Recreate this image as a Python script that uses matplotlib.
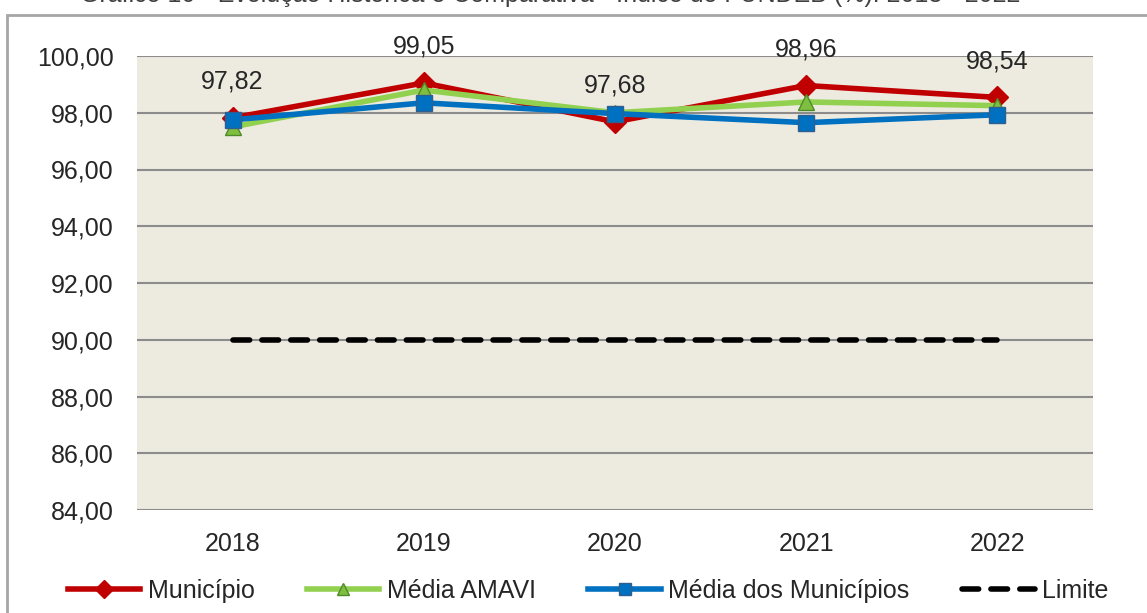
import matplotlib.pyplot as plt
from matplotlib.patches import Rectangle

# -------------------------
# Data
# -------------------------
anos = ["2018", "2019", "2020", "2021", "2022"]
municipio = [97.82, 99.05, 97.68, 98.96, 98.54]
media_amavi = [97.50, 98.80, 98.00, 98.38, 98.25]
media_municipios = [97.75, 98.35, 97.97, 97.65, 97.93]
limite = [90, 90, 90, 90, 90]
titulo = "Gráfico 10 - Evolução Histórica e Comparativa - Índice do FUNDEB (%): 2018 - 2022"

plt.rcParams["font.family"] = ["Liberation Sans", "DejaVu Sans"]

W, H = 1147, 613
fig = plt.figure(figsize=(W / 100, H / 100), dpi=100)

# plot area in pixels: left 137, right 1093, top 56, bottom 510
ax = fig.add_axes([137 / W, 1 - 510 / H, (1093 - 137) / W, (510 - 56) / H])
ax.set_facecolor("#EDEAE0")

x = list(range(len(anos)))

ax.plot(x, limite, color="black", lw=4, dashes=(3, 2.2), solid_capstyle="round",
        dash_capstyle="round", label="Limite", zorder=2)
ax.plot(x, municipio, color="#C00000", lw=4, marker="D", ms=11,
        mec="#C00000", label="Município", zorder=3)
ax.plot(x, media_amavi, color="#92D050", lw=4, marker="^", ms=11,
        mfc="#7FBF3F", mec="#4E8A2A", mew=1, label="Média AMAVI", zorder=4)
ax.plot(x, media_municipios, color="#0070C0", lw=4, marker="s", ms=11,
        mfc="#0070C0", mec="#2F5F8F", mew=1, label="Média dos Municípios", zorder=5)

for xi, v in zip(x, municipio):
    ax.annotate(f"{v:.2f}".replace(".", ","), (xi, v), xytext=(0, 36),
                textcoords="offset pixels", ha="center", va="center",
                fontsize=18, color="#262626", zorder=6, annotation_clip=False)

ax.set_xlim(-0.5, len(anos) - 0.5)
ax.set_ylim(84, 100)
ax.set_yticks(range(84, 101, 2))
ax.set_yticklabels([f"{t},00" for t in range(84, 101, 2)])
ax.set_xticks(x)
ax.set_xticklabels(anos)
ax.tick_params(length=0, labelsize=18, colors="#262626")
ax.tick_params(axis="x", pad=16)
ax.tick_params(axis="y", pad=17)
ax.grid(axis="y", color="#8C8C8C", lw=1.5)
ax.set_axisbelow(True)
for s in ax.spines.values():
    s.set_visible(False)

# legend
handles, labels = ax.get_legend_handles_labels()
order = [1, 2, 3, 0]
fig.legend([handles[i] for i in order], [labels[i] for i in order],
           loc="center", bbox_to_anchor=(588 / W, 1 - 591 / H), ncol=4,
           frameon=False, fontsize=18, handlelength=2.9, columnspacing=2.1,
           handletextpad=0.3, labelcolor="#262626", markerscale=0.85)

# outer chart border
fig.patches.append(Rectangle((7 / W, -0.05), 1.1, 1 - 15 / H + 0.05,
                             transform=fig.transFigure, fill=False,
                             edgecolor="#A6A6A6", lw=2))

# title, cut off at top of the picture as in the source
fig.text(80 / W, 1 - 2 / H, titulo, ha="left", va="baseline", fontsize=18,
         color="#404040")

fig.savefig("out.png", dpi=100)
